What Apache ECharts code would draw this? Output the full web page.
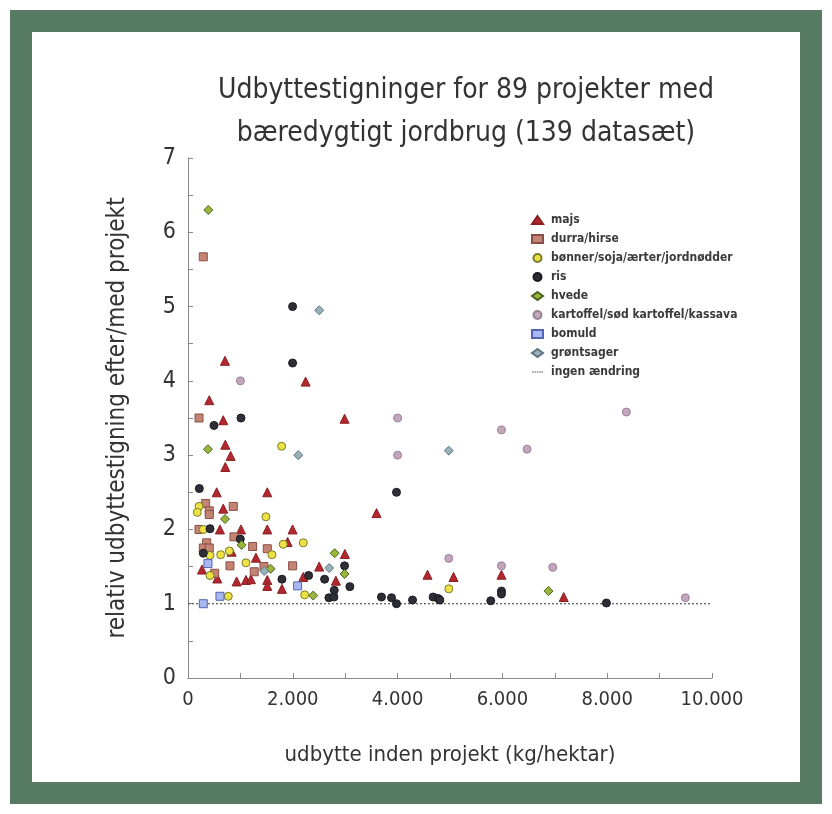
<!DOCTYPE html>
<html><head><meta charset="utf-8">
<script src="https://cdn.jsdelivr.net/npm/echarts@6/dist/echarts.min.js"></script>
<style>
html,body{margin:0;padding:0;background:#fff;}
#frame{position:absolute;left:10px;top:10px;width:768px;height:750px;border:22px solid #567a62;background:#fff;box-sizing:content-box;}
#c{position:absolute;left:0;top:0;width:832px;height:814px;}
</style></head>
<body>
<div id="frame"></div>
<div id="c"></div>
<script>
const titleText = 'Udbyttestigninger for 89 projekter med\nbæredygtigt jordbrug (139 datasæt)';
const xAxisName = 'udbytte inden projekt (kg/hektar)';
const yAxisName = 'relativ udbyttestigning efter/med projekt';
const seriesNames = ['majs','durra/hirse','bønner/soja/ærter/jordnødder','ris','hvede','kartoffel/sød kartoffel/kassava','bomuld','grøntsager','ingen ændring'];

const majs = [[406,3.74],[673,3.47],[2988,3.49],[2245,3.99],[706,4.27],[712,3.14],[814,2.99],[712,2.84],[547,2.50],[1513,2.50],[673,2.28],[3598,2.22],[610,2.0],[1011,2.0],[1513,2.0],[1996,2.0],[1901,1.83],[833,1.70],[1297,1.62],[2994,1.67],[267,1.46],[2504,1.50],[559,1.34],[928,1.30],[1106,1.32],[1201,1.33],[1513,1.32],[1513,1.24],[1793,1.20],[2199,1.36],[2822,1.31],[4571,1.39],[5067,1.36],[5982,1.39],[7170,1.09]];
const durra = [[210,3.50],[292,5.67],[337,2.35],[864,2.31],[406,2.25],[406,2.20],[210,2.0],[877,1.90],[356,1.82],[292,1.75],[406,1.75],[1233,1.77],[1513,1.74],[801,1.51],[1996,1.51],[1450,1.50],[1264,1.43],[509,1.41]];
const boenner = [[1787,3.12],[210,2.31],[178,2.23],[1487,2.17],[292,2.0],[1818,1.80],[2200,1.82],[420,1.65],[623,1.66],[788,1.71],[1602,1.66],[1106,1.55],[420,1.38],[769,1.10],[2226,1.12],[4977,1.20]];
const ris = [[496,3.40],[1011,3.50],[216,2.55],[420,2.01],[998,1.87],[292,1.68],[2988,1.51],[1793,1.33],[2302,1.38],[2607,1.33],[2791,1.18],[3089,1.23],[2689,1.08],[2785,1.09],[1996,5.0],[1996,4.24],[3979,2.50],[5982,1.17],[5982,1.13],[3692,1.09],[3884,1.08],[3979,1.0],[4285,1.05],[4678,1.09],[4774,1.07],[4806,1.05],[5778,1.04],[7985,1.01]];
const hvede = [[387,6.30],[381,3.08],[706,2.14],[1023,1.79],[2798,1.68],[1577,1.47],[2988,1.40],[2390,1.11],[6879,1.17]];
const kartoffel = [[1000,4.0],[4000,3.5],[4000,3.0],[5982,3.34],[6471,3.08],[8366,3.58],[9491,1.08],[4977,1.61],[5982,1.51],[6961,1.49]];
const bomuld = [[381,1.54],[2092,1.24],[610,1.10],[292,1.0]];
const groent = [[2504,4.95],[2104,3.0],[4977,3.06],[2695,1.48],[1455,1.44]];
const baseline = [[0,1],[10000,1]];

const xTicks = {min:0, max:10000, interval:1000};
const yTicks = {min:0, max:7, interval:0.5};

const FONT = '"DejaVu Sans Condensed","Liberation Sans Narrow",sans-serif';

function sc(name, data, symbol, size, fill, border){
  return {name, type:'scatter', data, symbol, symbolSize:size,
    itemStyle:{color:fill, borderColor:border, borderWidth:1, opacity:1}, z:3};
}

const chart = echarts.init(document.getElementById('c'));
chart.setOption({
  backgroundColor:'transparent',
  animation:false,
  title:{text:titleText, top:64, textAlign:'center', left:461,
    textStyle:{fontFamily:FONT, fontSize:28, fontWeight:'normal', color:'#333', lineHeight:43}},
  grid:{left:188, right:120, top:158, bottom:136},
  legend:{orient:'vertical', left:526, top:209, itemWidth:11, itemHeight:8, itemGap:7,
    symbolKeepAspect:true,
    textStyle:{fontFamily:FONT, fontSize:12, fontWeight:'bold', color:'#3a3a3a', lineHeight:11, padding:[0,0,0,3]},
    data:[
      {name:seriesNames[0], icon:'triangle'},
      {name:seriesNames[1], icon:'rect'},
      {name:seriesNames[2], icon:'circle'},
      {name:seriesNames[3], icon:'circle'},
      {name:seriesNames[4], icon:'diamond'},
      {name:seriesNames[5], icon:'circle'},
      {name:seriesNames[6], icon:'rect'},
      {name:seriesNames[7], icon:'diamond'},
      {name:seriesNames[8], icon:'path://M0,0h2v1h-2z M3,0h2v1h-2z M6,0h2v1h-2z M9,0h2v1h-2z M12,0h2v1h-2z'}
    ]},
  xAxis:{type:'value', min:xTicks.min, max:xTicks.max, interval:xTicks.interval,
    name:xAxisName, nameLocation:'middle', nameGap:66,
    nameTextStyle:{fontFamily:FONT, fontSize:22, color:'#333'},
    axisLine:{lineStyle:{color:'#888', width:1}},
    axisTick:{inside:true, length:5, lineStyle:{color:'#888'}},
    splitLine:{show:false},
    axisLabel:{fontFamily:FONT, fontSize:20, color:'#333', margin:12,
      formatter:v => (v % 2000 === 0) ? (v === 0 ? '0' : (v/1000) + '.000') : ''}},
  yAxis:{type:'value', min:yTicks.min, max:yTicks.max, interval:yTicks.interval,
    name:yAxisName, nameLocation:'middle', nameGap:58,
    nameTextStyle:{fontFamily:FONT, fontSize:24, color:'#333'},
    axisLine:{show:true, lineStyle:{color:'#888', width:1}},
    axisTick:{show:true, inside:true, length:5, lineStyle:{color:'#888'}},
    splitLine:{show:false},
    axisLabel:{fontFamily:FONT, fontSize:23, color:'#333', margin:12,
      formatter:v => (Math.abs(v - Math.round(v)) < 1e-9) ? String(Math.round(v)) : ''}},
  series:[
    sc(seriesNames[0], majs, 'triangle', 9, '#b3282e', '#8a1e22'),
    sc(seriesNames[1], durra, 'rect', 8, '#c48474', '#8a5048'),
    sc(seriesNames[2], boenner, 'circle', 8, '#ece246', '#7c7a24'),
    sc(seriesNames[3], ris, 'circle', 8, '#2e2f36', '#1a1a20'),
    sc(seriesNames[4], hvede, 'diamond', 9, '#9ab43c', '#4a6420'),
    sc(seriesNames[5], kartoffel, 'circle', 8, '#c2a6bc', '#9a8296'),
    sc(seriesNames[6], bomuld, 'rect', 8, '#a9b8f0', '#5464b4'),
    sc(seriesNames[7], groent, 'diamond', 9, '#9ab0b8', '#5e7680'),
    {name:seriesNames[8], type:'line', data:baseline, symbol:'none', z:2,
      lineStyle:{color:'#555', width:1.2, type:[2,2]}, itemStyle:{color:'#555'}}
  ]
});
</script>
</body></html>
